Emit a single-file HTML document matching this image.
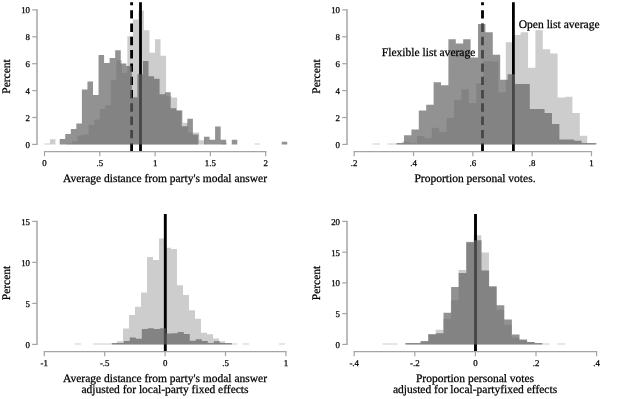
<!DOCTYPE html>
<html><head><meta charset="utf-8"><title>Histograms</title>
<style>html,body{margin:0;padding:0;background:#fff;}svg{display:block;}text{text-rendering:geometricPrecision;}</style>
</head><body>
<svg width="640" height="399" viewBox="0 0 640 399">
<rect width="640" height="399" fill="#fff"/>
<path d="M44.40,144.50 L44.40,143.40 L49.93,143.40 L49.93,139.14 L55.46,139.14 L55.46,144.50Z M66.52,144.50 L66.52,143.40 L72.05,143.40 L72.05,141.15 L77.58,141.15 L77.58,135.52 L83.11,135.52 L83.11,134.45 L88.64,134.45 L88.64,124.80 L94.17,124.80 L94.17,119.44 L99.70,119.44 L99.70,109.12 L105.23,109.12 L105.23,105.37 L110.76,105.37 L110.76,79.78 L116.29,79.78 L116.29,60.35 L121.82,60.35 L121.82,72.81 L127.35,72.81 L127.35,36.36 L132.88,36.36 L132.88,19.61 L138.41,19.61 L138.41,10.50 L143.94,10.50 L143.94,30.33 L149.47,30.33 L149.47,52.84 L155.00,52.84 L155.00,39.31 L160.53,39.31 L160.53,55.66 L166.06,55.66 L166.06,96.26 L171.59,96.26 L171.59,97.60 L177.12,97.60 L177.12,110.46 L182.65,110.46 L182.65,122.66 L188.18,122.66 L188.18,132.44 L193.71,132.44 L193.71,132.44 L199.24,132.44 L199.24,140.21 L204.77,140.21 L204.77,144.50Z M221.36,144.50 L221.36,143.16 L226.89,143.16 L226.89,144.50Z M254.54,144.50 L254.54,143.40 L260.07,143.40 L260.07,144.50Z" fill="#cdcdcd"/>
<line x1="131.6" y1="151.6" x2="131.6" y2="2.25" stroke="#000" stroke-width="2.8" stroke-dasharray="8.4 4.9"/>
<line x1="140.5" y1="151.6" x2="140.5" y2="2.25" stroke="#000" stroke-width="2.8"/>
<path d="M59.70,144.50 L59.70,139.01 L65.25,139.01 L65.25,134.05 L70.80,134.05 L70.80,128.96 L76.35,128.96 L76.35,123.46 L81.90,123.46 L81.90,89.56 L87.45,89.56 L87.45,81.52 L93.00,81.52 L93.00,94.92 L98.55,94.92 L98.55,55.12 L104.10,55.12 L104.10,63.03 L109.65,63.03 L109.65,57.94 L115.20,57.94 L115.20,50.16 L120.75,50.16 L120.75,63.43 L126.30,63.43 L126.30,65.98 L131.85,65.98 L131.85,97.33 L137.40,97.33 L137.40,74.15 L142.95,74.15 L142.95,61.02 L148.50,61.02 L148.50,76.16 L154.05,76.16 L154.05,78.84 L159.60,78.84 L159.60,94.25 L165.15,94.25 L165.15,92.24 L170.70,92.24 L170.70,108.32 L176.25,108.32 L176.25,110.46 L181.80,110.46 L181.80,126.14 L187.35,126.14 L187.35,118.64 L192.90,118.64 L192.90,134.45 L198.45,134.45 L198.45,144.50Z M204.00,144.50 L204.00,136.73 L209.55,136.73 L209.55,139.81 L215.10,139.81 L215.10,126.41 L220.65,126.41 L220.65,139.81 L226.20,139.81 L226.20,144.50Z M231.75,144.50 L231.75,139.81 L237.30,139.81 L237.30,144.50Z M281.70,144.50 L281.70,141.82 L287.25,141.82 L287.25,144.50Z" fill="rgb(100,100,100)" fill-opacity="0.7"/>
<line x1="37.0" y1="9.300000000000006" x2="37.0" y2="145.0" stroke="#a4a4a4" stroke-width="1.5"/>
<line x1="32.2" y1="144.40" x2="37.0" y2="144.40" stroke="#a4a4a4" stroke-width="1.2"/>
<text x="30.00" y="147.90" font-size="8.9" text-anchor="end" font-family="'Liberation Serif','Times New Roman',serif" fill="#000" stroke="#000" stroke-width="0.25" >0</text>
<line x1="32.2" y1="117.50" x2="37.0" y2="117.50" stroke="#a4a4a4" stroke-width="1.2"/>
<text x="30.00" y="121.00" font-size="8.9" text-anchor="end" font-family="'Liberation Serif','Times New Roman',serif" fill="#000" stroke="#000" stroke-width="0.25" >2</text>
<line x1="32.2" y1="90.60" x2="37.0" y2="90.60" stroke="#a4a4a4" stroke-width="1.2"/>
<text x="30.00" y="94.10" font-size="8.9" text-anchor="end" font-family="'Liberation Serif','Times New Roman',serif" fill="#000" stroke="#000" stroke-width="0.25" >4</text>
<line x1="32.2" y1="63.70" x2="37.0" y2="63.70" stroke="#a4a4a4" stroke-width="1.2"/>
<text x="30.00" y="67.20" font-size="8.9" text-anchor="end" font-family="'Liberation Serif','Times New Roman',serif" fill="#000" stroke="#000" stroke-width="0.25" >6</text>
<line x1="32.2" y1="36.80" x2="37.0" y2="36.80" stroke="#a4a4a4" stroke-width="1.2"/>
<text x="30.00" y="40.30" font-size="8.9" text-anchor="end" font-family="'Liberation Serif','Times New Roman',serif" fill="#000" stroke="#000" stroke-width="0.25" >8</text>
<line x1="32.2" y1="9.90" x2="37.0" y2="9.90" stroke="#a4a4a4" stroke-width="1.2"/>
<text x="30.00" y="13.40" font-size="8.9" text-anchor="end" font-family="'Liberation Serif','Times New Roman',serif" fill="#000" stroke="#000" stroke-width="0.25" >10</text>
<line x1="43.9" y1="151.6" x2="266.3" y2="151.6" stroke="#a4a4a4" stroke-width="1.25"/>
<line x1="44.50" y1="151.6" x2="44.50" y2="156.2" stroke="#a4a4a4" stroke-width="1.2"/>
<text x="44.50" y="166.30" font-size="8.9" text-anchor="middle" font-family="'Liberation Serif','Times New Roman',serif" fill="#000" stroke="#000" stroke-width="0.25" >0</text>
<line x1="99.80" y1="151.6" x2="99.80" y2="156.2" stroke="#a4a4a4" stroke-width="1.2"/>
<text x="99.80" y="166.30" font-size="8.9" text-anchor="middle" font-family="'Liberation Serif','Times New Roman',serif" fill="#000" stroke="#000" stroke-width="0.25" >.5</text>
<line x1="155.10" y1="151.6" x2="155.10" y2="156.2" stroke="#a4a4a4" stroke-width="1.2"/>
<text x="155.10" y="166.30" font-size="8.9" text-anchor="middle" font-family="'Liberation Serif','Times New Roman',serif" fill="#000" stroke="#000" stroke-width="0.25" >1</text>
<line x1="210.40" y1="151.6" x2="210.40" y2="156.2" stroke="#a4a4a4" stroke-width="1.2"/>
<text x="210.40" y="166.30" font-size="8.9" text-anchor="middle" font-family="'Liberation Serif','Times New Roman',serif" fill="#000" stroke="#000" stroke-width="0.25" >1.5</text>
<line x1="265.70" y1="151.6" x2="265.70" y2="156.2" stroke="#a4a4a4" stroke-width="1.2"/>
<text x="265.70" y="166.30" font-size="8.9" text-anchor="middle" font-family="'Liberation Serif','Times New Roman',serif" fill="#000" stroke="#000" stroke-width="0.25" >2</text>
<text x="10.1" y="76.5" font-size="11.5" text-anchor="middle" font-family="'Liberation Serif','Times New Roman',serif" fill="#000" stroke="#000" stroke-width="0.25" transform="rotate(-90 10.1 76.5)">Percent</text>
<text x="165" y="182" font-size="11.5" text-anchor="middle" font-family="'Liberation Serif','Times New Roman',serif" fill="#000" stroke="#000" stroke-width="0.25" >Average distance from party's modal answer</text>
<path d="M372.60,144.50 L372.60,143.40 L380.00,143.40 L380.00,144.50Z M387.40,144.50 L387.40,143.40 L394.80,143.40 L394.80,143.40 L402.20,143.40 L402.20,141.55 L409.60,141.55 L409.60,143.16 L417.00,143.16 L417.00,136.06 L424.40,136.06 L424.40,138.20 L431.80,138.20 L431.80,127.75 L439.20,127.75 L439.20,131.77 L446.60,131.77 L446.60,117.97 L454.00,117.97 L454.00,100.15 L461.40,100.15 L461.40,89.16 L468.80,89.16 L468.80,102.96 L476.20,102.96 L476.20,83.13 L483.60,83.13 L483.60,61.02 L491.00,61.02 L491.00,61.42 L498.40,61.42 L498.40,92.24 L505.80,92.24 L505.80,42.26 L513.20,42.26 L513.20,35.02 L520.60,35.02 L520.60,32.21 L528.00,32.21 L528.00,67.85 L535.40,67.85 L535.40,30.33 L542.80,30.33 L542.80,49.36 L550.20,49.36 L550.20,53.38 L557.60,53.38 L557.60,97.60 L565.00,97.60 L565.00,96.66 L572.40,96.66 L572.40,112.88 L579.80,112.88 L579.80,135.79 L587.20,135.79 L587.20,143.40 L594.60,143.40 L594.60,144.50Z" fill="#cdcdcd"/>
<line x1="482.5" y1="151.6" x2="482.5" y2="2.25" stroke="#000" stroke-width="2.8" stroke-dasharray="8.4 4.9"/>
<line x1="513.4" y1="151.6" x2="513.4" y2="2.25" stroke="#000" stroke-width="2.8"/>
<path d="M396.60,144.50 L396.60,143.10 L404.00,143.10 L404.00,135.25 L411.40,135.25 L411.40,129.49 L418.80,129.49 L418.80,110.46 L426.20,110.46 L426.20,104.84 L433.60,104.84 L433.60,82.32 L441.00,82.32 L441.00,85.14 L448.40,85.14 L448.40,39.31 L455.80,39.31 L455.80,43.46 L463.20,43.46 L463.20,39.31 L470.60,39.31 L470.60,57.40 L478.00,57.40 L478.00,24.03 L485.40,24.03 L485.40,32.21 L492.80,32.21 L492.80,54.72 L500.20,54.72 L500.20,79.78 L507.60,79.78 L507.60,74.15 L515.00,74.15 L515.00,83.93 L522.40,83.93 L522.40,83.93 L529.80,83.93 L529.80,108.99 L537.20,108.99 L537.20,108.99 L544.60,108.99 L544.60,112.88 L552.00,112.88 L552.00,124.00 L559.40,124.00 L559.40,139.54 L566.80,139.54 L566.80,139.54 L574.20,139.54 L574.20,140.75 L581.60,140.75 L581.60,143.10 L589.00,143.10 L589.00,143.10 L596.40,143.10 L596.40,144.50Z" fill="rgb(100,100,100)" fill-opacity="0.7"/>
<line x1="347.0" y1="9.300000000000006" x2="347.0" y2="145.0" stroke="#a4a4a4" stroke-width="1.5"/>
<line x1="342.2" y1="144.40" x2="347.0" y2="144.40" stroke="#a4a4a4" stroke-width="1.2"/>
<text x="340.00" y="147.90" font-size="8.9" text-anchor="end" font-family="'Liberation Serif','Times New Roman',serif" fill="#000" stroke="#000" stroke-width="0.25" >0</text>
<line x1="342.2" y1="117.50" x2="347.0" y2="117.50" stroke="#a4a4a4" stroke-width="1.2"/>
<text x="340.00" y="121.00" font-size="8.9" text-anchor="end" font-family="'Liberation Serif','Times New Roman',serif" fill="#000" stroke="#000" stroke-width="0.25" >2</text>
<line x1="342.2" y1="90.60" x2="347.0" y2="90.60" stroke="#a4a4a4" stroke-width="1.2"/>
<text x="340.00" y="94.10" font-size="8.9" text-anchor="end" font-family="'Liberation Serif','Times New Roman',serif" fill="#000" stroke="#000" stroke-width="0.25" >4</text>
<line x1="342.2" y1="63.70" x2="347.0" y2="63.70" stroke="#a4a4a4" stroke-width="1.2"/>
<text x="340.00" y="67.20" font-size="8.9" text-anchor="end" font-family="'Liberation Serif','Times New Roman',serif" fill="#000" stroke="#000" stroke-width="0.25" >6</text>
<line x1="342.2" y1="36.80" x2="347.0" y2="36.80" stroke="#a4a4a4" stroke-width="1.2"/>
<text x="340.00" y="40.30" font-size="8.9" text-anchor="end" font-family="'Liberation Serif','Times New Roman',serif" fill="#000" stroke="#000" stroke-width="0.25" >8</text>
<line x1="342.2" y1="9.90" x2="347.0" y2="9.90" stroke="#a4a4a4" stroke-width="1.2"/>
<text x="340.00" y="13.40" font-size="8.9" text-anchor="end" font-family="'Liberation Serif','Times New Roman',serif" fill="#000" stroke="#000" stroke-width="0.25" >10</text>
<line x1="353.59999999999997" y1="151.6" x2="592.08" y2="151.6" stroke="#a4a4a4" stroke-width="1.25"/>
<line x1="354.20" y1="151.6" x2="354.20" y2="156.2" stroke="#a4a4a4" stroke-width="1.2"/>
<text x="354.20" y="166.30" font-size="8.9" text-anchor="middle" font-family="'Liberation Serif','Times New Roman',serif" fill="#000" stroke="#000" stroke-width="0.25" >.2</text>
<line x1="413.52" y1="151.6" x2="413.52" y2="156.2" stroke="#a4a4a4" stroke-width="1.2"/>
<text x="413.52" y="166.30" font-size="8.9" text-anchor="middle" font-family="'Liberation Serif','Times New Roman',serif" fill="#000" stroke="#000" stroke-width="0.25" >.4</text>
<line x1="472.84" y1="151.6" x2="472.84" y2="156.2" stroke="#a4a4a4" stroke-width="1.2"/>
<text x="472.84" y="166.30" font-size="8.9" text-anchor="middle" font-family="'Liberation Serif','Times New Roman',serif" fill="#000" stroke="#000" stroke-width="0.25" >.6</text>
<line x1="532.16" y1="151.6" x2="532.16" y2="156.2" stroke="#a4a4a4" stroke-width="1.2"/>
<text x="532.16" y="166.30" font-size="8.9" text-anchor="middle" font-family="'Liberation Serif','Times New Roman',serif" fill="#000" stroke="#000" stroke-width="0.25" >.8</text>
<line x1="591.48" y1="151.6" x2="591.48" y2="156.2" stroke="#a4a4a4" stroke-width="1.2"/>
<text x="591.48" y="166.30" font-size="8.9" text-anchor="middle" font-family="'Liberation Serif','Times New Roman',serif" fill="#000" stroke="#000" stroke-width="0.25" >1</text>
<text x="320.0" y="76.5" font-size="11.5" text-anchor="middle" font-family="'Liberation Serif','Times New Roman',serif" fill="#000" stroke="#000" stroke-width="0.25" transform="rotate(-90 320.0 76.5)">Percent</text>
<text x="475" y="182" font-size="11.5" text-anchor="middle" font-family="'Liberation Serif','Times New Roman',serif" fill="#000" stroke="#000" stroke-width="0.25" >Proportion personal votes.</text>
<text x="381.75" y="55.5" font-size="11.55" text-anchor="start" font-family="'Liberation Serif','Times New Roman',serif" fill="#000" stroke="#000" stroke-width="0.25" >Flexible list average</text>
<text x="518.75" y="27.5" font-size="11.55" text-anchor="start" font-family="'Liberation Serif','Times New Roman',serif" fill="#000" stroke="#000" stroke-width="0.25" >Open list average</text>
<path d="M75.00,344.50 L75.00,343.40 L81.00,343.40 L81.00,344.50Z M93.00,344.50 L93.00,343.40 L99.00,343.40 L99.00,343.40 L105.00,343.40 L105.00,343.40 L111.00,343.40 L111.00,343.40 L117.00,343.40 L117.00,341.22 L123.00,341.22 L123.00,328.51 L129.00,328.51 L129.00,314.98 L135.00,314.98 L135.00,306.78 L141.00,306.78 L141.00,292.51 L147.00,292.51 L147.00,256.92 L153.00,256.92 L153.00,260.04 L159.00,260.04 L159.00,238.47 L165.00,238.47 L165.00,247.74 L171.00,247.74 L171.00,248.97 L177.00,248.97 L177.00,285.21 L183.00,285.21 L183.00,294.97 L189.00,294.97 L189.00,310.22 L195.00,310.22 L195.00,318.67 L201.00,318.67 L201.00,332.77 L207.00,332.77 L207.00,334.25 L213.00,334.25 L213.00,338.60 L219.00,338.60 L219.00,341.14 L225.00,341.14 L225.00,343.40 L231.00,343.40 L231.00,343.40 L237.00,343.40 L237.00,344.50Z M243.00,344.50 L243.00,343.40 L249.00,343.40 L249.00,344.50Z M279.00,344.50 L279.00,343.40 L285.00,343.40 L285.00,344.50Z" fill="#cdcdcd"/>
<line x1="165.3" y1="351.6" x2="165.3" y2="214" stroke="#000" stroke-width="2.9"/>
<path d="M111.80,344.50 L111.80,343.10 L117.80,343.10 L117.80,343.10 L123.80,343.10 L123.80,340.97 L129.80,340.97 L129.80,337.53 L135.80,337.53 L135.80,338.76 L141.80,338.76 L141.80,329.12 L147.80,329.12 L147.80,328.26 L153.80,328.26 L153.80,329.12 L159.80,329.12 L159.80,328.26 L165.80,328.26 L165.80,333.51 L171.80,333.51 L171.80,333.27 L177.80,333.27 L177.80,332.04 L183.80,332.04 L183.80,334.09 L189.80,334.09 L189.80,340.73 L195.80,340.73 L195.80,339.33 L201.80,339.33 L201.80,340.97 L207.80,340.97 L207.80,343.10 L213.80,343.10 L213.80,341.22 L219.80,341.22 L219.80,343.10 L225.80,343.10 L225.80,343.10 L231.80,343.10 L231.80,344.50Z" fill="rgb(100,100,100)" fill-opacity="0.7"/>
<line x1="37.0" y1="220.79999999999998" x2="37.0" y2="345.0" stroke="#a4a4a4" stroke-width="1.5"/>
<line x1="32.2" y1="344.40" x2="37.0" y2="344.40" stroke="#a4a4a4" stroke-width="1.2"/>
<text x="30.00" y="347.90" font-size="8.9" text-anchor="end" font-family="'Liberation Serif','Times New Roman',serif" fill="#000" stroke="#000" stroke-width="0.25" >0</text>
<line x1="32.2" y1="303.40" x2="37.0" y2="303.40" stroke="#a4a4a4" stroke-width="1.2"/>
<text x="30.00" y="306.90" font-size="8.9" text-anchor="end" font-family="'Liberation Serif','Times New Roman',serif" fill="#000" stroke="#000" stroke-width="0.25" >5</text>
<line x1="32.2" y1="262.40" x2="37.0" y2="262.40" stroke="#a4a4a4" stroke-width="1.2"/>
<text x="30.00" y="265.90" font-size="8.9" text-anchor="end" font-family="'Liberation Serif','Times New Roman',serif" fill="#000" stroke="#000" stroke-width="0.25" >10</text>
<line x1="32.2" y1="221.40" x2="37.0" y2="221.40" stroke="#a4a4a4" stroke-width="1.2"/>
<text x="30.00" y="224.90" font-size="8.9" text-anchor="end" font-family="'Liberation Serif','Times New Roman',serif" fill="#000" stroke="#000" stroke-width="0.25" >15</text>
<line x1="43.699999999999996" y1="351.6" x2="286.5" y2="351.6" stroke="#a4a4a4" stroke-width="1.25"/>
<line x1="44.30" y1="351.6" x2="44.30" y2="356.20000000000005" stroke="#a4a4a4" stroke-width="1.2"/>
<text x="44.30" y="366.30" font-size="8.9" text-anchor="middle" font-family="'Liberation Serif','Times New Roman',serif" fill="#000" stroke="#000" stroke-width="0.25" >-1</text>
<line x1="104.70" y1="351.6" x2="104.70" y2="356.20000000000005" stroke="#a4a4a4" stroke-width="1.2"/>
<text x="104.70" y="366.30" font-size="8.9" text-anchor="middle" font-family="'Liberation Serif','Times New Roman',serif" fill="#000" stroke="#000" stroke-width="0.25" >-.5</text>
<line x1="165.10" y1="351.6" x2="165.10" y2="356.20000000000005" stroke="#a4a4a4" stroke-width="1.2"/>
<text x="165.10" y="366.30" font-size="8.9" text-anchor="middle" font-family="'Liberation Serif','Times New Roman',serif" fill="#000" stroke="#000" stroke-width="0.25" >0</text>
<line x1="225.50" y1="351.6" x2="225.50" y2="356.20000000000005" stroke="#a4a4a4" stroke-width="1.2"/>
<text x="225.50" y="366.30" font-size="8.9" text-anchor="middle" font-family="'Liberation Serif','Times New Roman',serif" fill="#000" stroke="#000" stroke-width="0.25" >.5</text>
<line x1="285.90" y1="351.6" x2="285.90" y2="356.20000000000005" stroke="#a4a4a4" stroke-width="1.2"/>
<text x="285.90" y="366.30" font-size="8.9" text-anchor="middle" font-family="'Liberation Serif','Times New Roman',serif" fill="#000" stroke="#000" stroke-width="0.25" >1</text>
<text x="10.1" y="283" font-size="11.5" text-anchor="middle" font-family="'Liberation Serif','Times New Roman',serif" fill="#000" stroke="#000" stroke-width="0.25" transform="rotate(-90 10.1 283)">Percent</text>
<text x="165" y="382" font-size="11.5" text-anchor="middle" font-family="'Liberation Serif','Times New Roman',serif" fill="#000" stroke="#000" stroke-width="0.25" >Average distance from party's modal answer</text>
<text x="165" y="392.5" font-size="11.5" text-anchor="middle" font-family="'Liberation Serif','Times New Roman',serif" fill="#000" stroke="#000" stroke-width="0.25" >adjusted for local-party fixed effects</text>
<path d="M382.50,344.50 L382.50,343.40 L390.10,343.40 L390.10,343.40 L397.70,343.40 L397.70,344.50Z M405.30,344.50 L405.30,343.40 L412.90,343.40 L412.90,343.40 L420.50,343.40 L420.50,341.12 L428.10,341.12 L428.10,334.29 L435.70,334.29 L435.70,329.80 L443.30,329.80 L443.30,318.98 L450.90,318.98 L450.90,300.22 L458.50,300.22 L458.50,270.08 L466.10,270.08 L466.10,241.80 L473.70,241.80 L473.70,235.28 L481.30,235.28 L481.30,252.43 L488.90,252.43 L488.90,287.31 L496.50,287.31 L496.50,309.75 L504.10,309.75 L504.10,324.82 L511.70,324.82 L511.70,337.43 L519.30,337.43 L519.30,340.19 L526.90,340.19 L526.90,342.35 L534.50,342.35 L534.50,343.40 L542.10,343.40 L542.10,343.40 L549.70,343.40 L549.70,344.50Z M557.30,344.50 L557.30,343.40 L564.90,343.40 L564.90,344.50Z" fill="#cdcdcd"/>
<line x1="475.5" y1="351.6" x2="475.5" y2="214" stroke="#000" stroke-width="2.9"/>
<path d="M405.50,344.50 L405.50,343.10 L413.10,343.10 L413.10,343.10 L420.70,343.10 L420.70,341.18 L428.30,341.18 L428.30,334.29 L435.90,334.29 L435.90,333.25 L443.50,333.25 L443.50,312.64 L451.10,312.64 L451.10,287.12 L458.70,287.12 L458.70,272.98 L466.30,272.98 L466.30,242.16 L473.90,242.16 L473.90,240.26 L481.50,240.26 L481.50,270.52 L489.10,270.52 L489.10,286.26 L496.70,286.26 L496.70,305.14 L504.30,305.14 L504.30,319.41 L511.90,319.41 L511.90,334.41 L519.50,334.41 L519.50,339.40 L527.10,339.40 L527.10,341.92 L534.70,341.92 L534.70,343.10 L542.30,343.10 L542.30,344.50Z" fill="rgb(100,100,100)" fill-opacity="0.7"/>
<line x1="347.0" y1="220.79999999999998" x2="347.0" y2="345.0" stroke="#a4a4a4" stroke-width="1.5"/>
<line x1="342.2" y1="344.40" x2="347.0" y2="344.40" stroke="#a4a4a4" stroke-width="1.2"/>
<text x="340.00" y="347.90" font-size="8.9" text-anchor="end" font-family="'Liberation Serif','Times New Roman',serif" fill="#000" stroke="#000" stroke-width="0.25" >0</text>
<line x1="342.2" y1="313.65" x2="347.0" y2="313.65" stroke="#a4a4a4" stroke-width="1.2"/>
<text x="340.00" y="317.15" font-size="8.9" text-anchor="end" font-family="'Liberation Serif','Times New Roman',serif" fill="#000" stroke="#000" stroke-width="0.25" >5</text>
<line x1="342.2" y1="282.90" x2="347.0" y2="282.90" stroke="#a4a4a4" stroke-width="1.2"/>
<text x="340.00" y="286.40" font-size="8.9" text-anchor="end" font-family="'Liberation Serif','Times New Roman',serif" fill="#000" stroke="#000" stroke-width="0.25" >10</text>
<line x1="342.2" y1="252.15" x2="347.0" y2="252.15" stroke="#a4a4a4" stroke-width="1.2"/>
<text x="340.00" y="255.65" font-size="8.9" text-anchor="end" font-family="'Liberation Serif','Times New Roman',serif" fill="#000" stroke="#000" stroke-width="0.25" >15</text>
<line x1="342.2" y1="221.40" x2="347.0" y2="221.40" stroke="#a4a4a4" stroke-width="1.2"/>
<text x="340.00" y="224.90" font-size="8.9" text-anchor="end" font-family="'Liberation Serif','Times New Roman',serif" fill="#000" stroke="#000" stroke-width="0.25" >20</text>
<line x1="353.59999999999997" y1="351.6" x2="597.2" y2="351.6" stroke="#a4a4a4" stroke-width="1.25"/>
<line x1="354.20" y1="351.6" x2="354.20" y2="356.20000000000005" stroke="#a4a4a4" stroke-width="1.2"/>
<text x="354.20" y="366.30" font-size="8.9" text-anchor="middle" font-family="'Liberation Serif','Times New Roman',serif" fill="#000" stroke="#000" stroke-width="0.25" >-.4</text>
<line x1="414.80" y1="351.6" x2="414.80" y2="356.20000000000005" stroke="#a4a4a4" stroke-width="1.2"/>
<text x="414.80" y="366.30" font-size="8.9" text-anchor="middle" font-family="'Liberation Serif','Times New Roman',serif" fill="#000" stroke="#000" stroke-width="0.25" >-.2</text>
<line x1="475.40" y1="351.6" x2="475.40" y2="356.20000000000005" stroke="#a4a4a4" stroke-width="1.2"/>
<text x="475.40" y="366.30" font-size="8.9" text-anchor="middle" font-family="'Liberation Serif','Times New Roman',serif" fill="#000" stroke="#000" stroke-width="0.25" >0</text>
<line x1="536.00" y1="351.6" x2="536.00" y2="356.20000000000005" stroke="#a4a4a4" stroke-width="1.2"/>
<text x="536.00" y="366.30" font-size="8.9" text-anchor="middle" font-family="'Liberation Serif','Times New Roman',serif" fill="#000" stroke="#000" stroke-width="0.25" >.2</text>
<line x1="596.60" y1="351.6" x2="596.60" y2="356.20000000000005" stroke="#a4a4a4" stroke-width="1.2"/>
<text x="596.60" y="366.30" font-size="8.9" text-anchor="middle" font-family="'Liberation Serif','Times New Roman',serif" fill="#000" stroke="#000" stroke-width="0.25" >.4</text>
<text x="320.0" y="283" font-size="11.5" text-anchor="middle" font-family="'Liberation Serif','Times New Roman',serif" fill="#000" stroke="#000" stroke-width="0.25" transform="rotate(-90 320.0 283)">Percent</text>
<text x="475" y="382" font-size="11.5" text-anchor="middle" font-family="'Liberation Serif','Times New Roman',serif" fill="#000" stroke="#000" stroke-width="0.25" >Proportion personal votes</text>
<text x="475" y="392.5" font-size="11.5" text-anchor="middle" font-family="'Liberation Serif','Times New Roman',serif" fill="#000" stroke="#000" stroke-width="0.25" >adjusted for local-partyfixed effects</text>
</svg>
</body></html>
